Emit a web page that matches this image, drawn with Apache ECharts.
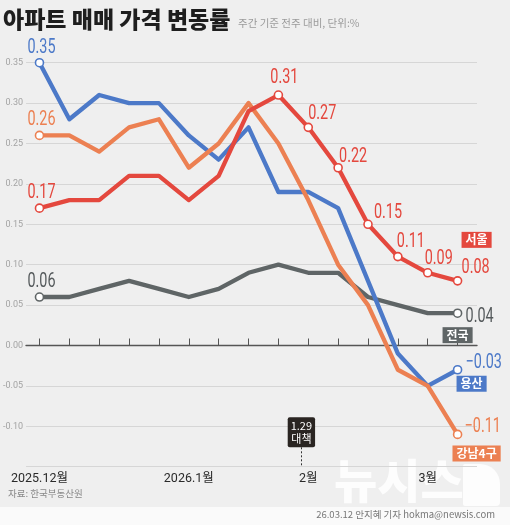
<!DOCTYPE html>
<html><head><meta charset="utf-8">
<script src="https://cdn.jsdelivr.net/npm/echarts@6/dist/echarts.min.js"></script>
<style>html,body{margin:0;padding:0;background:#efefef}#c{width:510px;height:525px}</style>
</head><body><div id="c"></div>
<script>
// Weekly survey dates (Mondays)
const weeks = ['12/1','12/8','12/15','12/22','12/29','1/5','1/12','1/19','1/26','2/2','2/9','2/16','2/23','3/2','3/9'];
const monthTickWeeks = ['12/1','1/5','2/2','3/2'];
const monthLabels = ['2025.12월','2026.1월','2월','3월'];

const seoul    = [0.17,0.18,0.18,0.21,0.21,0.18,0.21,0.29,0.31,0.27,0.22,0.15,0.11,0.09,0.08];
const gangnam4 = [0.26,0.26,0.24,0.27,0.28,0.22,0.25,0.30,0.25,0.18,0.10,0.05,-0.03,-0.05,-0.11];
const yongsan  = [0.35,0.28,0.31,0.30,0.30,0.26,0.23,0.27,0.19,0.19,0.17,0.08,-0.01,-0.05,-0.03];
const national = [0.06,0.06,0.07,0.08,0.07,0.06,0.07,0.09,0.10,0.09,0.09,0.06,0.05,0.04,0.04];

const seoulLabeledWeeks = ['12/1','1/26','2/2','2/9','2/16','2/23','3/2','3/9'];
const otherLabeledWeeks = ['12/1','3/9'];

const eventPos = 8.77;          // position of the 1.29 policy marker, in week-index units
const eventLabel = '1.29\n대책';

const numFont = "Roboto, 'Noto Sans', sans-serif";
const krFont = "'Noto Sans CJK KR','Noto Sans',sans-serif";

const C_RED = '#e4483e', C_OR = '#ec8052', C_BL = '#4c79c8', C_GR = '#5f6566';

// label layout (pixel offsets relative to the point, not data)
const midOffsetsSeoul = { '1/26': [6, -17], '2/2': [14, -13], '2/9': [15, -11], '2/16': [20, -11], '2/23': [13, -15], '3/2': [11, -14], '3/9': [18, -13] };

const lineDefs = [
  { name: '전국', values: national, color: C_GR, labelColor: '#555a5c', labeled: otherLabeledWeeks, last: { dx: 8, dy: 4, align: 'left' }, tag: [0, 22], z: 2 },
  { name: '용산', values: yongsan, color: C_BL, labelColor: C_BL, labeled: otherLabeledWeeks, last: { dx: 8, dy: -7, align: 'left' }, tag: [14, 14], z: 3 },
  { name: '강남4구', values: gangnam4, color: C_OR, labelColor: C_OR, labeled: otherLabeledWeeks, last: { dx: 7, dy: -7, align: 'left' }, tag: [19, 19], z: 4 },
  { name: '서울', values: seoul, color: C_RED, labelColor: C_RED, labeled: seoulLabeledWeeks, mids: midOffsetsSeoul, tag: [19, -41], z: 5 }
];

function buildLine(d) {
  const last = d.values.length - 1;
  const data = d.values.map((v, i) => ({ value: [i, v], symbol: d.labeled.indexOf(weeks[i]) >= 0 ? 'circle' : 'none' }));
  return {
    name: d.name, type: 'line', data, z: d.z,
    symbol: 'circle', symbolSize: 8, showSymbol: true,
    lineStyle: { color: d.color, width: 4.3, cap: 'round', join: 'round' },
    itemStyle: { color: '#fff', borderColor: d.color, borderWidth: 1.6 },
    label: { show: false },
    emphasis: { disabled: true },
    markPoint: {
      silent: true, animation: false,
      data: [{ coord: [last, d.values[last]], symbol: 'circle', symbolSize: 1, itemStyle: { color: 'rgba(0,0,0,0)' },
        label: { show: true, position: 'inside', offset: d.tag, formatter: d.name, color: '#fff', backgroundColor: d.color,
          fontFamily: krFont, fontWeight: 'bold', fontSize: 12, padding: [1, 4, 1, 4], lineHeight: 14 } }]
    }
  };
}

const lineSeries = lineDefs.map(buildLine);

// event marker on the national series
lineSeries[0].markLine = {
  silent: true, animation: false, symbol: 'none',
  lineStyle: { color: '#333', width: 1, type: [2, 2] },
  label: { show: false },
  data: [[{ coord: [eventPos, -0.126] }, { coord: [eventPos, -0.15] }]]
};
lineSeries[0].markPoint.data.push({
  coord: [eventPos, -0.1075], symbol: 'circle', symbolSize: 1, itemStyle: { color: 'rgba(0,0,0,0)' },
  label: { show: true, position: 'inside', formatter: eventLabel, color: '#fff', backgroundColor: '#2a2522',
    fontFamily: krFont, fontSize: 11, lineHeight: 13, padding: [2, 3, 2, 3], borderRadius: 2 }
});

// value labels (condensed look via horizontal scaling), positioned via the chart's own coordinate system
const labelData = [];
lineDefs.forEach((d, k) => d.values.forEach((v, i) => { if (d.labeled.indexOf(weeks[i]) >= 0) labelData.push([i, v, k]); }));

const labelSeries = {
  type: 'custom', coordinateSystem: 'cartesian2d', data: labelData, z: 10, silent: true,
  encode: { x: 0, y: 1 },
  renderItem: (params, api) => {
    const i = api.value(0), v = api.value(1), k = api.value(2);
    const d = lineDefs[k];
    const p = api.coord([i, v]);
    let dx = 2, dy = -15, align = 'center';
    if (i === weeks.length - 1 && d.last) { dx = d.last.dx; dy = d.last.dy; align = d.last.align; }
    else if (i > 0 && d.mids && d.mids[weeks[i]]) { dx = d.mids[weeks[i]][0]; dy = d.mids[weeks[i]][1]; }
    return {
      type: 'text', x: p[0] + dx, y: p[1] + dy, scaleX: 0.72,
      style: { text: v.toFixed(2).replace('-', '−'), fill: d.labelColor, font: '20px Roboto',
        align, verticalAlign: 'middle', textAlign: align, textVerticalAlign: 'middle' }
    };
  }
};

const splitColors = [];
for (let k = 0; k < 11; k++) splitColors.push(k === 3 ? '#8a8a8a' : '#d6d6d6');

const option = {
  animation: false,
  backgroundColor: '#efefef',
  grid: { left: 24, right: 33, top: 62.7, bottom: 58.3 },
  xAxis: {
    type: 'value', min: -0.45, max: 14.65,
    splitLine: { show: false },
    axisLine: { show: true, lineStyle: { color: '#555', width: 1.4 } },
    axisTick: { show: true, inside: true, length: 7, lineStyle: { color: '#555', width: 1 },
      customValues: weeks.map((w, i) => i) },
    axisLabel: { show: true, color: '#2a2a2a', fontSize: 12.5, fontFamily: numFont + ",'Noto Sans CJK KR'", margin: 6,
      customValues: monthTickWeeks.map(w => weeks.indexOf(w)),
      formatter: v => monthLabels[monthTickWeeks.indexOf(weeks[Math.round(v)])] || '' }
  },
  yAxis: {
    type: 'value', min: -0.15, max: 0.35, interval: 0.05,
    axisLine: { show: false }, axisTick: { show: false },
    splitLine: { show: true, lineStyle: { color: splitColors, width: 1 } },
    axisLabel: { color: '#a3a3a3', fontSize: 9, fontFamily: numFont, margin: 3,
      formatter: v => v < -0.14 ? '' : v.toFixed(2) }
  },
  graphic: [
    { type: 'rect', left: 0, top: 507, shape: { width: 510, height: 18 }, style: { fill: '#fafafa' }, z: -20, silent: true },
    { type: 'text', left: 3, top: 8, style: { text: '아파트 매매 가격 변동률', fill: '#1e1e1e', font: "900 23px 'Noto Sans CJK KR'" } },
    { type: 'text', left: 238, top: 18, style: { text: '주간 기준 전주 대비, 단위:%', fill: '#9a9a9a', font: "10.5px 'Noto Sans CJK KR'" } },
    { type: 'text', left: 8, top: 489, style: { text: '자료: 한국부동산원', fill: '#888', font: "9.5px 'Noto Sans CJK KR'" } },
    { type: 'text', right: 15, top: 510, style: { text: '26.03.12 안지혜 기자 hokma@newsis.com', fill: '#777', font: "9.5px 'Noto Sans CJK KR'" } },
    { type: 'text', left: 334, top: 457, z: -10, silent: true, style: { text: '뉴시스', fill: 'rgba(255,255,255,0.85)', font: "900 47px 'Noto Sans CJK KR'" } },
    { type: 'rect', left: 463, top: 464, z: -10, silent: true, shape: { width: 37, height: 42, r: [2, 20, 4, 2] }, style: { fill: 'rgba(255,255,255,0.85)' } }
  ],
  series: lineSeries.concat([labelSeries])
};

const chart = echarts.init(document.getElementById('c'), null, { renderer: 'canvas' });
chart.setOption(option);
</script>
</body></html>
